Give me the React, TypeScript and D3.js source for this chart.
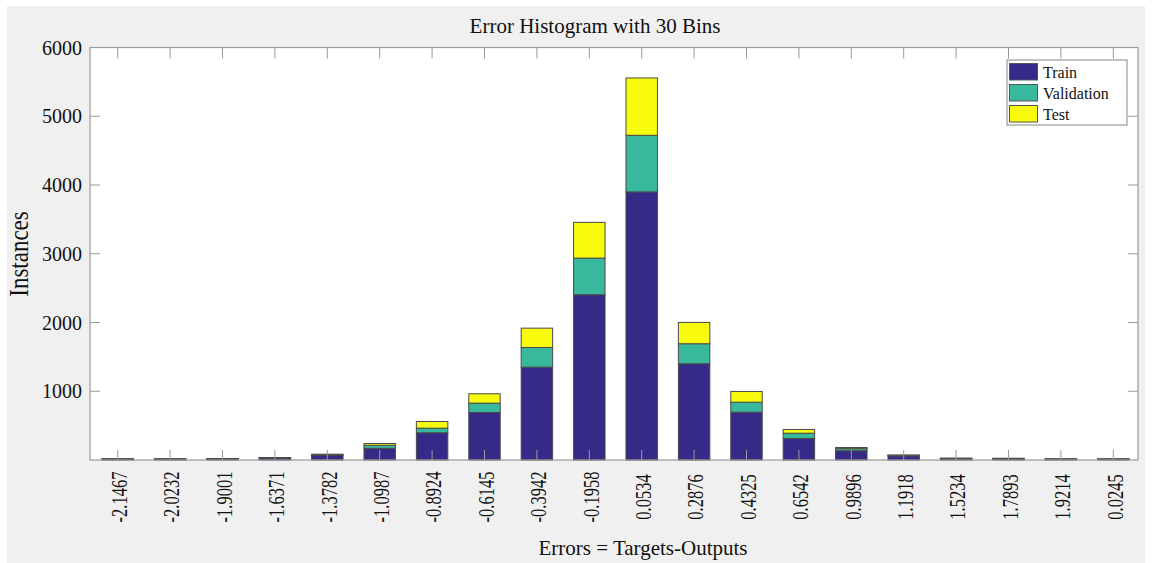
import React from "react";
import * as d3 from "d3";

// bin centres as printed under the bars
const binLabels = [
  "-2.1467", "-2.0232", "-1.9001", "-1.6371", "-1.3782", "-1.0987", "-0.8924",
  "-0.6145", "-0.3942", "-0.1958", "0.0534", "0.2876", "0.4325", "0.6542",
  "0.9896", "1.1918", "1.5234", "1.7893", "1.9214", "0.0245",
];
const trainCounts = [14, 14, 17, 28, 65, 170, 396, 691, 1351, 2404, 3900, 1400, 696, 313, 135, 60, 20, 18, 12, 12];
const validationCounts = [2, 2, 3, 5, 12, 45, 67, 136, 286, 533, 823, 291, 145, 77, 30, 8, 4, 4, 3, 3];
const testCounts = [2, 2, 2, 3, 7, 25, 97, 136, 281, 520, 834, 310, 156, 54, 17, 5, 3, 3, 2, 2];
const yTicks = [1000, 2000, 3000, 4000, 5000, 6000];

const seriesNames = ["Train", "Validation", "Test"];
const seriesColors = ["#352a87", "#38b99e", "#f9fb0e"];

const W = 1173;
const H = 563;
const plot = { left: 90, right: 1138, top: 47.5, bottom: 460 };
const FONT = "'Liberation Serif', 'Times New Roman', serif";

export default function App() {
  const rows = binLabels.map((label, i) => ({
    label,
    Train: trainCounts[i],
    Validation: validationCounts[i],
    Test: testCounts[i],
  }));

  const x = d3
    .scaleBand()
    .domain(binLabels)
    .range([plot.left + 1.5, plot.right + 1.5])
    .paddingInner(0.4)
    .paddingOuter(0.2);

  const y = d3.scaleLinear().domain([0, 6000]).range([plot.bottom, plot.top]);

  const stacked = d3.stack<any>().keys(seriesNames)(rows);
  const tickLen = 10;
  const axisColor = "#9a9a9a";

  return (
    <svg
      width={W}
      height={H}
      style={{ position: "absolute", left: 0, top: 0, background: "#fff" }}
      fontFamily={FONT}
    >
      {/* figure background */}
      <rect x={7} y={6} width={1138} height={H - 6} fill="#f0f0f0" />
      <rect
        x={plot.left}
        y={plot.top}
        width={plot.right - plot.left}
        height={plot.bottom - plot.top}
        fill="#fff"
      />

      {/* title */}
      <text x={595} y={33} fontSize={21} textAnchor="middle" fill="#111">
        Error Histogram with 30 Bins
      </text>

      {/* bars */}
      {stacked.map((layer, si) => (
        <g key={layer.key} fill={seriesColors[si]} stroke="#4a4a4a" strokeWidth={1}>
          {layer.map((d, i) => (
            <rect
              key={i}
              x={x(binLabels[i])!}
              width={x.bandwidth()}
              y={y(d[1])}
              height={Math.max(0, y(d[0]) - y(d[1]))}
            />
          ))}
        </g>
      ))}

      {/* frame */}
      <rect
        x={plot.left}
        y={plot.top}
        width={plot.right - plot.left}
        height={plot.bottom - plot.top}
        fill="none"
        stroke={axisColor}
        strokeWidth={1.2}
      />

      {/* x ticks top and bottom */}
      {binLabels.map((l) => {
        const cx = x(l)! + x.bandwidth() / 2;
        return (
          <g key={l} stroke={axisColor} strokeWidth={1}>
            <line x1={cx} x2={cx} y1={plot.top} y2={plot.top + tickLen + 1} />
            <line x1={cx} x2={cx} y1={plot.bottom} y2={plot.bottom - tickLen} />
          </g>
        );
      })}

      {/* y ticks left and right */}
      {yTicks.map((t) => (
        <g key={t} stroke={axisColor} strokeWidth={1}>
          <line x1={plot.left} x2={plot.left + tickLen} y1={y(t)} y2={y(t)} />
          <line x1={plot.right} x2={plot.right - tickLen} y1={y(t)} y2={y(t)} />
        </g>
      ))}

      {/* y tick labels */}
      {yTicks.map((t) => (
        <text
          key={t}
          x={plot.left - 8}
          y={y(t)}
          dy="0.35em"
          fontSize={20}
          textAnchor="end"
          fill="#111"
        >
          {t}
        </text>
      ))}

      {/* x tick labels, rotated (glyphs look wider in the source) */}
      {binLabels.map((l) => {
        const cx = x(l)! + x.bandwidth() / 2;
        return (
          <text
            key={l}
            transform={`translate(${cx},497) rotate(-90) scale(1,1.4)`}
            dy="0.4em"
            fontSize={16.5}
            textAnchor="middle"
            fill="#111"
          >
            {l}
          </text>
        );
      })}

      {/* axis titles */}
      <text x={643} y={555} fontSize={21} textAnchor="middle" fill="#111">
        Errors = Targets-Outputs
      </text>
      <text
        transform="translate(28,254) rotate(-90) scale(1,1.15)"
        fontSize={23}
        textAnchor="middle"
        fill="#111"
      >
        Instances
      </text>

      {/* legend */}
      <g>
        <rect x={1007} y={60} width={120} height={65} fill="#fff" stroke="#9a9a9a" strokeWidth={1.2} />
        {seriesNames.map((name, i) => (
          <g key={name}>
            <rect
              x={1009.5}
              y={63.5 + i * 21}
              width={28}
              height={16.5}
              fill={seriesColors[i]}
              stroke="#555"
              strokeWidth={1}
            />
            <text x={1043} y={72 + i * 21} dy="0.35em" fontSize={16} fill="#111">
              {name}
            </text>
          </g>
        ))}
      </g>
    </svg>
  );
}
